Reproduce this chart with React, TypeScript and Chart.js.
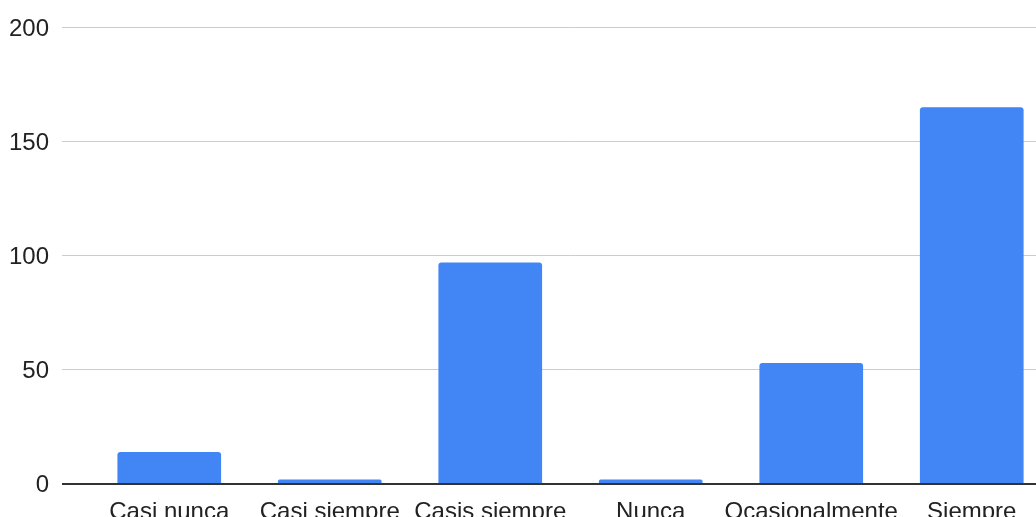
import React, { useEffect, useRef } from "react";
import { Chart, registerables } from "chart.js";

Chart.register(...registerables);

const categories = ["Casi nunca", "Casi siempre", "Casis siempre", "Nunca", "Ocasionalmente", "Siempre"];
const values = [14, 2, 97, 2, 53, 165];
const yTicks = [0, 50, 100, 150, 200];

const FONT = "'Liberation Sans', Arial, sans-serif";

export default function App() {
  const ref = useRef<HTMLCanvasElement | null>(null);

  useEffect(() => {
    document.body.style.margin = "0";
    const canvas = ref.current!;
    const chart = new Chart(canvas, {
      type: "bar",
      data: {
        labels: categories,
        datasets: [
          {
            data: values,
            backgroundColor: "#4285F4",
            borderRadius: 3,
            borderSkipped: "start",
            categoryPercentage: 1,
            barPercentage: 0.646,
          },
        ],
      },
      options: {
        responsive: false,
        animation: false,
        layout: { padding: { top: 26, right: 0, left: 0, bottom: 0 } },
        plugins: { legend: { display: false }, tooltip: { enabled: false } },
        scales: {
          x: {
            offset: true,
            grid: { display: false },
            border: { display: false },
            ticks: {
              color: "#222222",
              font: { family: FONT, size: 24 },
              padding: 6,
              maxRotation: 0,
              autoSkip: false,
            },
            afterFit: (s: any) => {
              s.height = 76;
            },
          },
          y: {
            min: 0,
            max: 200,
            afterBuildTicks: (s: any) => {
              s.ticks = yTicks.map((v) => ({ value: v }));
            },
            grid: {
              color: (ctx: any) => (ctx.tick && ctx.tick.value === 0 ? "#333333" : "#cccccc"),
              lineWidth: (ctx: any) => (ctx.tick && ctx.tick.value === 0 ? 2 : 1),
              tickLength: 27,
              drawTicks: true,
            },
            border: { display: false },
            ticks: {
              color: "#222222",
              font: { family: FONT, size: 24 },
              padding: 13,
              labelOffset: 1.5,
            },
            afterFit: (s: any) => {
              s.width = 89;
            },
          },
        },
      },
    });
    return () => chart.destroy();
  }, []);

  return (
    <div style={{ position: "absolute", left: 0, top: 0, width: 1036, height: 517, overflow: "hidden" }}>
      <canvas ref={ref} width={1052} height={560} style={{ display: "block" }} />
    </div>
  );
}
